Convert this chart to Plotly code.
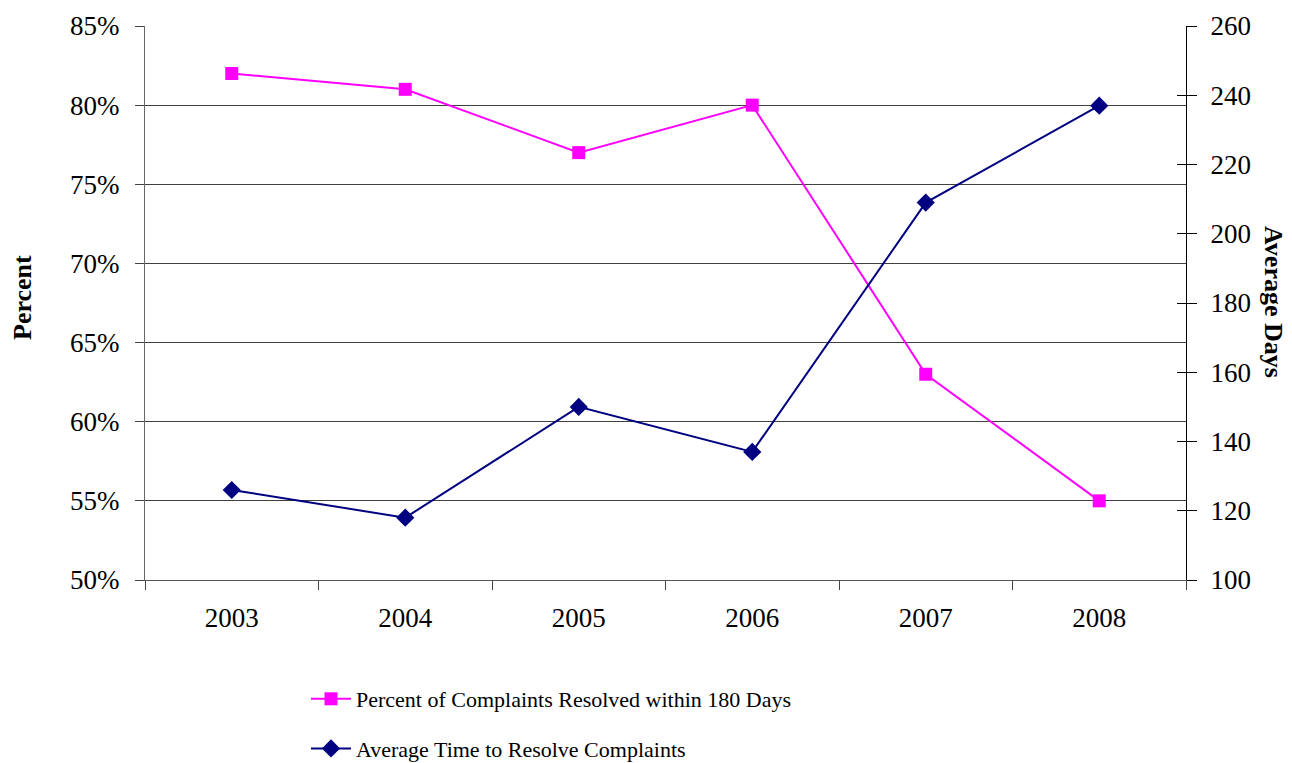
import plotly.graph_objects as go

years = ["2003", "2004", "2005", "2006", "2007", "2008"]
pct_resolved = [82, 81, 77, 80, 63, 55]
avg_days = [126, 118, 150, 137, 209, 237]

FONT = "Liberation Serif"
L, R, T, B = 145, 1186, 26, 580
W, H = 1292, 763
PW, PH = R - L, B - T

fig = go.Figure()
fig.add_trace(go.Scatter(
    x=years, y=pct_resolved, name="Percent of Complaints Resolved within 180 Days",
    mode="lines+markers", line=dict(color="#FF00FF", width=2),
    marker=dict(symbol="square", size=13, color="#FF00FF"),
    yaxis="y", legendgroup="a"))
fig.add_trace(go.Scatter(
    x=years, y=avg_days, name="Average Time to Resolve Complaints",
    mode="lines+markers", line=dict(color="#000080", width=2),
    marker=dict(symbol="diamond", size=14, color="#000080"),
    yaxis="y2", legendgroup="b"))
fig.add_trace(go.Scatter(x=years, y=avg_days, yaxis="y3", mode="none",
                         showlegend=False, hoverinfo="skip"))

fig.update_layout(
    width=W, height=H,
    margin=dict(l=L, r=W - R, t=T, b=H - B, autoexpand=False),
    paper_bgcolor="white", plot_bgcolor="white",
    font=dict(family=FONT, size=27, color="black"),
    showlegend=True,
    legend=dict(orientation="v", x=(306 - L) / PW, xanchor="left",
                y=-(678 - B) / PH, yanchor="top",
                traceorder="grouped", tracegroupgap=18,
                font=dict(size=22, family=FONT), itemwidth=40),
    xaxis=dict(type="category", range=[-0.5, 5.5], tickson="boundaries",
               ticks="outside", ticklen=9, tickcolor="#444", showgrid=False,
               showline=True, linecolor="#555", linewidth=1, zeroline=False,
               automargin=False, ticklabelstandoff=14),
    yaxis=dict(range=[50, 85], dtick=5, ticksuffix="%", showgrid=True,
               gridcolor="#404040", gridwidth=1, ticks="outside", ticklen=9,
               tickcolor="#444", showline=True, linecolor="#666", linewidth=1,
               zeroline=False, automargin=False, ticklabelstandoff=10),
    yaxis2=dict(range=[100, 260], dtick=20, overlaying="y", side="right",
                showgrid=False, ticks="outside", ticklen=10, tickcolor="black",
                showline=True, linecolor="black", linewidth=1, zeroline=False,
                automargin=False, ticklabelstandoff=8),
    yaxis3=dict(range=[100, 260], dtick=20, overlaying="y", side="right",
                showgrid=False, ticks="inside", ticklen=9, tickcolor="black",
                showticklabels=False, showline=False, zeroline=False,
                automargin=False),
)

fig.add_annotation(text="<b>Percent</b>", xref="paper", yref="paper",
                   x=(22 - L) / PW, y=(B - 298) / PH, textangle=-90,
                   showarrow=False, font=dict(size=26, family=FONT),
                   xanchor="center", yanchor="middle")
fig.add_annotation(text="<b>Average Days</b>", xref="paper", yref="paper",
                   x=(1274 - L) / PW, y=(B - 302) / PH, textangle=90,
                   showarrow=False, font=dict(size=26, family=FONT),
                   xanchor="center", yanchor="middle")

fig.write_html("out.html", config={"displayModeBar": False},
               post_script="document.body.style.margin='0';document.body.style.padding='0';")
